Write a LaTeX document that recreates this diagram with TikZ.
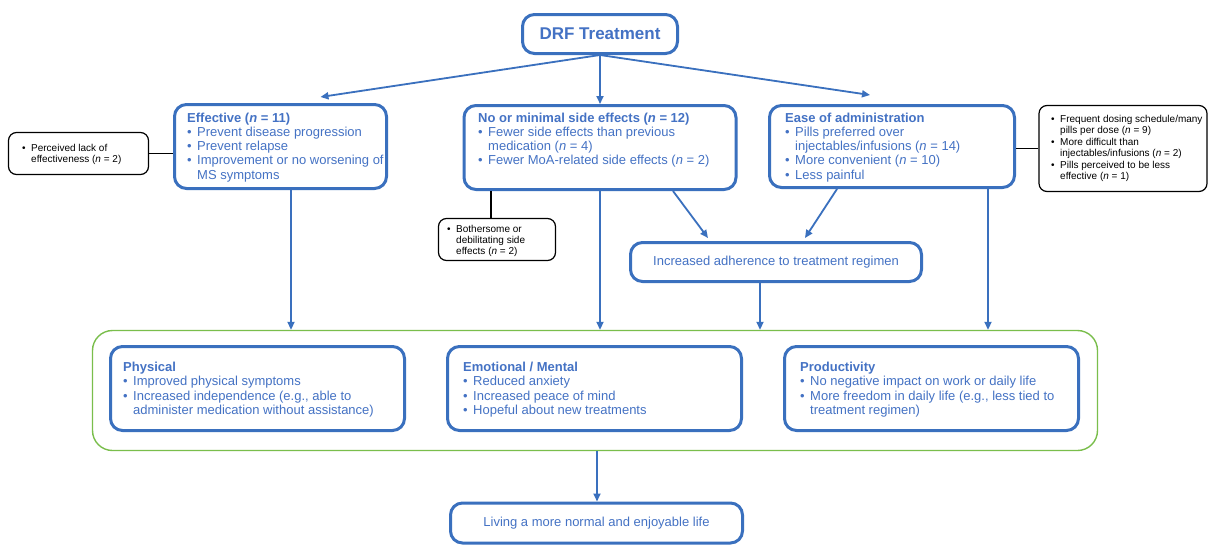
\documentclass[tikz,border=0pt]{standalone}
\usepackage{fontspec}
\setmainfont{Liberation Sans}
\usetikzlibrary{arrows.meta}
\definecolor{bbord}{RGB}{58,112,190}
\definecolor{btext}{RGB}{68,114,196}
\definecolor{gbord}{RGB}{122,190,76}
\newcommand{\tb}[2]{\vtop{\hsize=#1\parindent=0pt\parskip=0pt\rightskip=0pt plus 1fil\relax #2}}
\newcommand{\itm}{\par\hangindent=10pt\hangafter=1\noindent\makebox[10pt][l]{•}}
\newcommand{\sitm}{\par\hangindent=9pt\hangafter=1\noindent\makebox[9pt][l]{•}}
\begin{document}
\begin{tikzpicture}[x=1pt,y=-1pt,
  bluebox/.style={draw=bbord, line width=3pt, rounded corners=12pt, inner sep=0pt, fill=white},
  blackbox/.style={draw=black, line width=1.2pt, rounded corners=8pt, inner sep=0pt, fill=white},
  greenbox/.style={draw=gbord, line width=1.4pt, rounded corners=20pt, inner sep=0pt},
  maintext/.style={anchor=base west, inner sep=0pt, text=btext, font=\fontsize{13}{14.3}\selectfont},
  lowtext/.style={maintext, font=\fontsize{13}{14.6}\selectfont},
  smalltext/.style={anchor=base west, inner sep=0pt, text=black, font=\fontsize{10}{11}\selectfont},
  arr/.style={draw=bbord, line width=1.8pt, -{Triangle[length=8pt,width=7pt]}},
  plainline/.style={draw=black, line width=1.2pt}
]
\useasboundingbox (0,0) rectangle (1210,544);
\fill[white] (0,0) rectangle (1210,544);

% container
\node[greenbox, minimum width=1005pt, minimum height=120pt] (green) at (595,390.5) {};

% boxes
\node[bluebox, minimum width=155pt, minimum height=39pt, text=btext, font=\fontsize{17}{20}\selectfont\bfseries] (drf) at (600,34) {DRF Treatment};
\node[bluebox, minimum width=212pt, minimum height=84pt] (eff) at (280.5,146.5) {};
\node[bluebox, minimum width=272pt, minimum height=84pt] (side) at (600,147.5) {};
\node[bluebox, minimum width=245pt, minimum height=82pt] (ease) at (892,146.5) {};
\node[blackbox, minimum width=140pt, minimum height=42pt] (lack) at (78.5,153.5) {};
\node[blackbox, minimum width=117pt, minimum height=42pt] (both) at (497,239.5) {};
\node[blackbox, minimum width=168pt, minimum height=86pt] (cons) at (1123,148.5) {};
\node[bluebox, minimum width=291pt, minimum height=39pt, text=btext, font=\fontsize{13}{15}\selectfont] (adh) at (776,262) {Increased adherence to treatment regimen};
\node[bluebox, minimum width=294pt, minimum height=84pt] (phys) at (257.5,388.5) {};
\node[bluebox, minimum width=294pt, minimum height=84pt] (emo) at (594.5,388.5) {};
\node[bluebox, minimum width=294pt, minimum height=84pt] (prod) at (931.5,388.5) {};
\node[bluebox, minimum width=292pt, minimum height=40pt, text=btext, font=\fontsize{13}{15}\selectfont] (live) at (596.5,523) {Living a more normal and enjoyable life};

% texts
\node[maintext] (effT) at (187,122) {\tb{200pt}{\textbf{Effective (\textit{n} = 11)}
  \itm Prevent disease progression
  \itm Prevent relapse
  \itm Improvement or no worsening of\\MS symptoms}};
\node[maintext] (sideT) at (478,122) {\tb{255pt}{\textbf{No or minimal side effects (\textit{n} = 12)}
  \itm Fewer side effects than previous\\medication (\textit{n} = 4)
  \itm Fewer MoA-related side effects (\textit{n} = 2)}};
\node[maintext] (easeT) at (785,122) {\tb{228pt}{\textbf{Ease of administration}
  \itm Pills preferred over\\injectables/infusions (\textit{n} = 14)
  \itm More convenient (\textit{n} = 10)
  \itm Less painful}};
\node[smalltext] (lackT) at (22,151) {\tb{125pt}{\sitm Perceived lack of\\effectiveness (\textit{n} = 2)}};
\node[smalltext] (bothT) at (447,232) {\tb{105pt}{\sitm Bothersome or\\debilitating side\\effects (\textit{n} = 2)}};
\node[smalltext, font=\fontsize{10}{11.5}\selectfont] (consT) at (1051,122) {\tb{155pt}{\sitm Frequent dosing schedule/many\\pills per dose (\textit{n} = 9)
  \sitm More difficult than\\injectables/infusions (\textit{n} = 2)
  \sitm Pills perceived to be less\\effective (\textit{n} = 1)}};
\node[lowtext] (physT) at (123,371) {\tb{280pt}{\textbf{Physical}
  \itm Improved physical symptoms
  \itm Increased independence (e.g., able to\\administer medication without assistance)}};
\node[lowtext] (emoT) at (463,371) {\tb{275pt}{\textbf{Emotional / Mental}
  \itm Reduced anxiety
  \itm Increased peace of mind
  \itm Hopeful about new treatments}};
\node[lowtext] (prodT) at (800,371) {\tb{275pt}{\textbf{Productivity}
  \itm No negative impact on work or daily life
  \itm More freedom in daily life (e.g., less tied to\\treatment regimen)}};

% connectors
\draw[arr] (drf.south) -- ([xshift=40pt,yshift=6pt]eff.north);
\draw[arr] (drf.south) -- (side.north);
\draw[arr] (drf.south) -- ([xshift=-22pt,yshift=9pt]ease.north);
\draw[arr] ([xshift=10.5pt]eff.south) -- ([xshift=10.5pt]eff.south |- green.north);
\draw[arr] (side.south) -- (side.south |- green.north);
\draw[arr] ([xshift=96pt]ease.south) -- ([xshift=96pt]ease.south |- green.north);
\draw[arr] ([xshift=73pt]side.south) -- ([xshift=-68pt,yshift=3pt]adh.north);
\draw[arr] ([xshift=-55pt]ease.south) -- ([xshift=29pt,yshift=3pt]adh.north);
\draw[arr] ([xshift=-16pt]adh.south) -- ([xshift=-16pt]adh.south |- green.north);
\draw[arr] ([xshift=2pt]green.south) -- ([xshift=2pt]green.south |- live.north);
\draw[plainline] (lack.east) -- (lack.east -| eff.west);
\draw[plainline] ([xshift=-6pt]both.north) -- ([xshift=-6pt]both.north |- side.south);
\draw[plainline] (cons.west) -- (cons.west -| ease.east);
\end{tikzpicture}
\end{document}
